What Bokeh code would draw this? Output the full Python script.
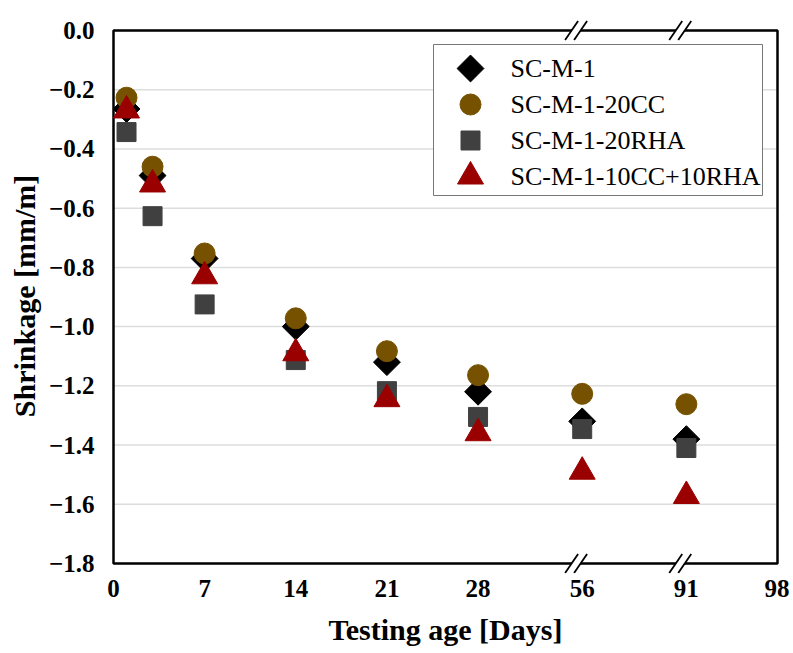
import numpy as np
from bokeh.plotting import figure
from bokeh.models import FixedTicker, CustomJSTickFormatter, Range1d
from bokeh.core.properties import value
from bokeh.embed import file_html
from bokeh.resources import INLINE

# testing ages [days] and measured shrinkage [mm/m]
days = [1, 3, 7, 14, 21, 28, 56, 91]
sc_m_1 = [-0.265, -0.49, -0.77, -1.00, -1.12, -1.22, -1.32, -1.38]
sc_m_1_20cc = [-0.227, -0.46, -0.753, -0.972, -1.083, -1.164, -1.227, -1.262]
sc_m_1_20rha = [-0.343, -0.627, -0.925, -1.113, -1.218, -1.305, -1.346, -1.41]
sc_m_1_10cc_10rha = [-0.27, -0.52, -0.83, -1.09, -1.245, -1.36, -1.49, -1.572]

series_names = ["SC-M-1", "SC-M-1-20CC", "SC-M-1-20RHA", "SC-M-1-10CC+10RHA"]

# broken x axis: each tick day and the slot it sits on
tick_days = [0, 7, 14, 21, 28, 56, 91, 98]
tick_slots = [0, 7, 14, 21, 28, 36, 44, 51]
break_days = [56, 91]
y_ticks = [0.0, -0.2, -0.4, -0.6, -0.8, -1.0, -1.2, -1.4, -1.6, -1.8]

FONT = "Liberation Serif"
BOX_W, BOX_H = 664, 533          # drawn plot box in px
X0, X1, Y0, Y1 = 0, 51, -1.8, 0.0
# the Bokeh frame is a bit larger than the box, so the break marks are not clipped
M_L, M_R, M_T, M_B = 4, 4, 12, 10
sx = BOX_W / (X1 - X0)
sy = BOX_H / (Y1 - Y0)


def slot(d):
    return np.interp(d, tick_days, tick_slots)


x = slot(days)

p = figure(width=789, height=650, output_backend="svg", toolbar_location=None,
           x_range=(X0 - M_L / sx, X1 + M_R / sx), y_range=(Y0 - M_B / sy, Y1 + M_T / sy),
           min_border_left=109, min_border_right=8, min_border_top=18, min_border_bottom=77)
# pixel space of the box, used for the legend and the break marks
p.extra_x_ranges = {"px": Range1d(-M_L, BOX_W + M_R)}
p.extra_y_ranges = {"px": Range1d(-M_B, BOX_H + M_T)}

p.background_fill_color = "white"
p.outline_line_color = None
p.xgrid.grid_line_color = None
p.ygrid.grid_line_color = None

p.xaxis.ticker = FixedTicker(ticks=tick_slots)
p.xaxis.major_label_overrides = {s: str(d) for s, d in zip(tick_slots, tick_days)}
p.yaxis.ticker = FixedTicker(ticks=y_ticks)
p.yaxis.formatter = CustomJSTickFormatter(
    code="return Math.abs(tick) < 1e-9 ? '0.0' : '\u2212' + Math.abs(tick).toFixed(1);")

for ax in (p.xaxis, p.yaxis):
    ax.axis_line_color = None
    ax.major_tick_line_color = None
    ax.minor_tick_line_color = None
    ax.major_label_text_font = FONT
    ax.major_label_text_font_style = "bold"
    ax.major_label_text_font_size = "25px"
    ax.major_label_text_color = "black"
    ax.axis_label_text_font = FONT
    ax.axis_label_text_font_style = "bold"
    ax.axis_label_text_font_size = "30px"
    ax.axis_label_text_color = "black"

p.xaxis.axis_label = "Testing age [Days]"
p.xaxis.major_label_standoff = 0
p.xaxis.axis_label_standoff = 13
p.yaxis.axis_label = "Shrinkage [mm/m]"
p.yaxis.major_label_standoff = 9
p.yaxis.axis_label_standoff = 5

# horizontal grid and the box around the plot
p.segment(x0=X0, x1=X1, y0=y_ticks, y1=y_ticks, line_color="#dddddd", line_width=1.5)
p.quad(left=X0, right=X1, bottom=Y0, top=Y1, fill_color=None,
       line_color="black", line_width=2.5)

styles = [
    dict(marker="square", angle=np.pi / 4, size=19, color="black"),
    dict(marker="circle", size=21, color="#765200"),
    dict(marker="square", size=19, color="#404040"),
    dict(marker="triangle", size=26, color="#9a0000"),
]
for ys, st in zip([sc_m_1, sc_m_1_20cc, sc_m_1_20rha, sc_m_1_10cc_10rha], styles):
    p.scatter(x, ys, **st)

# legend (Bokeh's own legend cannot rotate the diamond)
box_l, box_r, box_t, box_b = 320, 649, BOX_H - 14, BOX_H - 165
p.quad(left=box_l, right=box_r, top=box_t, bottom=box_b, fill_color="white",
       line_color="#777777", line_width=1, x_range_name="px", y_range_name="px")
row_y = [BOX_H - 38 - 36 * i for i in range(len(series_names))]
for yy, st in zip(row_y, styles):
    p.scatter([357], [yy], x_range_name="px", y_range_name="px", **st)
p.text(x=[397] * len(series_names), y=row_y, text=series_names,
       text_font=value(FONT), text_font_size="26px", text_color="black",
       text_baseline="middle", text_align="left", x_range_name="px", y_range_name="px")

# "//" break marks on the bottom and top lines of the box
gap_xs, gap_ys, sl_x0, sl_x1, sl_y0, sl_y1 = [], [], [], [], [], []
hw, hh, off = 6.5, 9.5, 4.5
for b in break_days:
    c = (slot(b) - 0.47) * sx
    for yb in (0, BOX_H):
        k = hw / hh
        gap_xs.append([c - off - 3 * k, c - off + 3 * k, c + off + 3 * k, c + off - 3 * k])
        gap_ys.append([yb - 3, yb + 3, yb + 3, yb - 3])
        for ci in (c - off, c + off):
            sl_x0.append(ci - hw)
            sl_x1.append(ci + hw)
            sl_y0.append(yb - hh)
            sl_y1.append(yb + hh)
p.patches(gap_xs, gap_ys, fill_color="white", line_color=None,
          x_range_name="px", y_range_name="px")
p.segment(x0=sl_x0, x1=sl_x1, y0=sl_y0, y1=sl_y1, line_color="black", line_width=1.8,
          x_range_name="px", y_range_name="px")

open("out.html", "w").write(file_html(p, INLINE))
